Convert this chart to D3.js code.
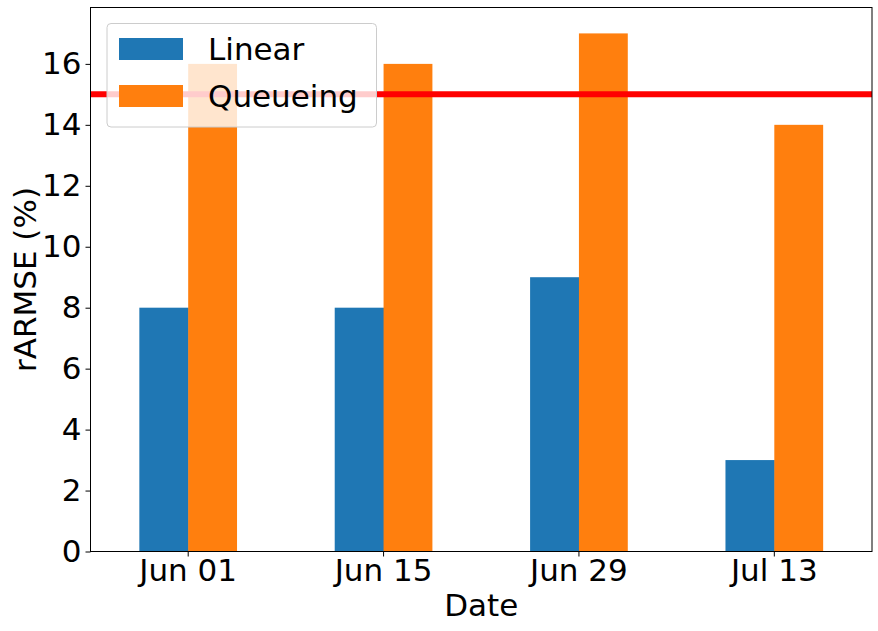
<!DOCTYPE html>
<html><head><meta charset="utf-8">
<script src="https://cdn.jsdelivr.net/npm/d3@7"></script>
<style>body{margin:0;background:#fff;} text{font-family:"DejaVu Sans",sans-serif;}</style>
</head><body>
<svg id="chart" width="878" height="631"></svg>
<script>
const categories = ["Jun 01", "Jun 15", "Jun 29", "Jul 13"];
const seriesNames = ["Linear", "Queueing"];
const linearValues = [8, 8, 9, 3];
const queueingValues = [16, 16, 17, 14];
const yTicks = [0, 2, 4, 6, 8, 10, 12, 14, 16];
const thresholdValue = 15;
const colors = ["#1f77b4", "#ff7f0e"];

const svg = d3.select("#chart");
const m = {left: 90.5, top: 7.5, right: 872, bottom: 551.5};
const tickFs = 31, labelFs = 31, legendFs = 31;

const x = d3.scaleBand().domain(categories).range([m.left, m.right]).paddingInner(0.5).paddingOuter(0.25);
const y = d3.scaleLinear().domain([0, 17.85]).range([m.bottom, m.top]);
const xs = d3.scaleBand().domain(seriesNames).range([0, x.bandwidth()]);

const series = [linearValues, queueingValues];
series.forEach((vals, si) => {
  svg.append("g").selectAll("rect").data(vals).join("rect")
    .attr("x", (d, i) => x(categories[i]) + xs(seriesNames[si]))
    .attr("width", xs.bandwidth() + (si === 0 ? 0.5 : 0))
    .attr("y", d => y(d))
    .attr("height", d => y(0) - y(d))
    .attr("fill", colors[si]);
});

svg.append("line")
  .attr("x1", m.left).attr("x2", m.right)
  .attr("y1", y(thresholdValue)).attr("y2", y(thresholdValue))
  .attr("stroke", "red").attr("stroke-width", 6);

// axes
const gx = svg.append("g").attr("transform", `translate(0,${m.bottom})`)
  .call(d3.axisBottom(x).tickSize(5).tickPadding(2.5));
const gy = svg.append("g").attr("transform", `translate(${m.left},0)`)
  .call(d3.axisLeft(y).tickValues(yTicks).tickSize(5).tickPadding(4));
[gx, gy].forEach(g => {
  g.select(".domain").remove();
  g.attr("font-size", null).attr("font-family", null);
  g.selectAll("text").attr("font-size", tickFs).attr("fill", "#000").attr("font-family", "DejaVu Sans");
  g.selectAll("line").attr("stroke", "#000");
});

// frame
svg.append("rect").attr("x", m.left).attr("y", m.top)
  .attr("width", m.right - m.left).attr("height", m.bottom - m.top)
  .attr("fill", "none").attr("stroke", "#000").attr("stroke-width", 1);

// labels
svg.append("text").attr("x", (m.left + m.right) / 2).attr("y", 616)
  .attr("text-anchor", "middle").attr("font-size", labelFs).text("Date");
svg.append("text").attr("transform", `translate(36,${(m.top + m.bottom) / 2}) rotate(-90)`)
  .attr("text-anchor", "middle").attr("font-size", labelFs).text("rARMSE (%)");

// legend
const lg = svg.append("g");
lg.append("rect").attr("x", 107).attr("y", 23.5).attr("width", 269.5).attr("height", 103.5)
  .attr("rx", 4).attr("fill", "rgba(255,255,255,0.8)").attr("stroke", "#cccccc").attr("stroke-width", 1);
seriesNames.forEach((name, i) => {
  const yy = 38 + i * 47;
  lg.append("rect").attr("x", 119).attr("y", yy).attr("width", 64).attr("height", 22).attr("fill", colors[i]);
  lg.append("text").attr("x", 208).attr("y", yy + 22).attr("font-size", legendFs).text(name);
});
</script>
</body></html>
